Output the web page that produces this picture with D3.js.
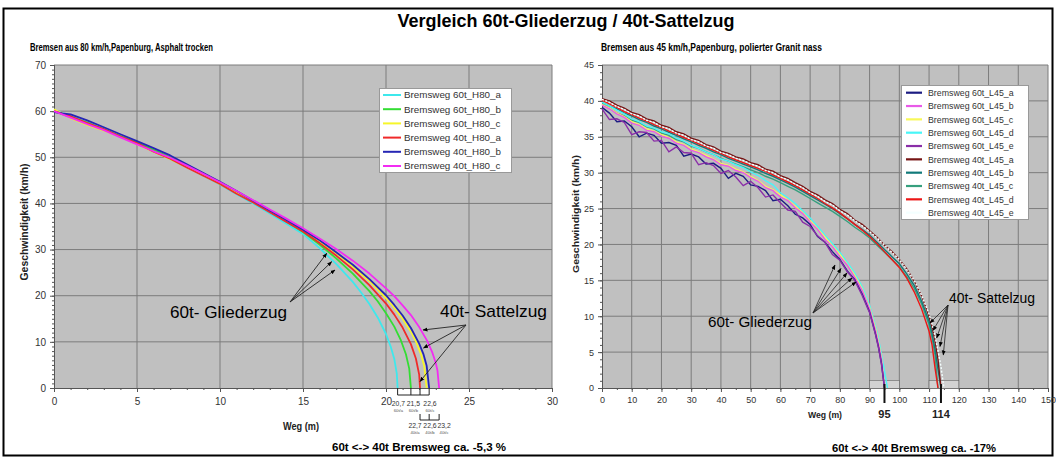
<!DOCTYPE html>
<html><head><meta charset="utf-8">
<script src="https://cdn.jsdelivr.net/npm/d3@7"></script>
<style>body{margin:0;background:#fff}svg{display:block}</style>
</head><body><svg id="c" width="1056" height="459"></svg>
<script>
// ---------------- DATA ----------------
const titleText = "Vergleich 60t-Gliederzug / 40t-Sattelzug";
const leftSubtitle = "Bremsen aus 80 km/h,Papenburg, Asphalt trocken";
const rightSubtitle = "Bremsen aus  45 km/h,Papenburg, polierter Granit nass";
const yTitle = "Geschwindigkeit (km/h)";
const xTitle = "Weg (m)";

// Left chart (80 km/h, asphalt dry): [Weg m, km/h]
const leftNames = ["Bremsweg 60t_H80_a","Bremsweg 60t_H80_b","Bremsweg 60t_H80_c","Bremsweg 40t_H80_a","Bremsweg 40t_H80_b","Bremsweg 40t_H80_c"];
const leftColors = ["#3ee8ec","#33dd33","#f6f62a","#f02a2a","#2626b4","#f22cf2"];
const h80_60a = [[0,60.2],[0.5,59.6],[1,59.0],[2,57.6],[3,56.1],[4,54.5],[5,53.0],[6,51.3],[7,49.6],[8,47.9],[9,46.0],[10,44.1],[11,42.0],[12,40.0],[13,37.8],[14,35.6],[15,33.4],[16,30.3],[17,26.9],[18,23.0],[18.5,20.7],[19,18.2],[19.5,15.3],[20,11.7],[20.3,8.8],[20.5,6.3],[20.65,3.1],[20.7,0]];
const h80_60b = [[0,60.0],[1,58.7],[2,57.5],[3,56.0],[4,54.6],[5,53.2],[6,51.6],[7,50.0],[8,48.3],[9,46.5],[10,44.5],[11,42.5],[12,40.4],[13,38.3],[14,36.1],[15,33.8],[16,31.1],[17,28.1],[18,24.8],[19,21.0],[19.5,18.8],[20,16.2],[20.5,13.3],[20.9,10.3],[21.2,7.3],[21.4,4.2],[21.5,0]];
const h80_60c = [[0,60.4],[1,58.5],[2,57.0],[3,55.8],[4,54.4],[5,52.8],[6,51.2],[7,49.6],[8,47.9],[9,46.1],[10,44.2],[11,42.3],[12,40.3],[13,38.3],[14,36.2],[15,34.1],[16,31.7],[17,29.2],[18,26.3],[19,23.2],[20,19.5],[20.5,17.4],[21,15.0],[21.5,12.2],[21.8,10.1],[22.1,7.4],[22.3,4.8],[22.45,0]];
const h80_40a = [[0,60.0],[1,58.9],[2,57.4],[3,56.1],[4,54.5],[5,53.1],[6,51.2],[7,49.7],[8,47.8],[9,46.0],[10,44.2],[11,42.1],[12,40.2],[13,38.1],[14,36.0],[15,33.9],[16,31.4],[17,28.7],[18,25.7],[19,22.3],[20,18.3],[20.5,15.9],[21,13.1],[21.5,9.5],[21.8,6.4],[22,2.9],[22.05,0]];
const h80_40b = [[0,59.8],[0.5,59.5],[1,59.3],[2,58.0],[3,56.5],[4,55.0],[5,53.5],[6,52.0],[7,50.4],[8,48.5],[9,46.6],[10,44.7],[11,42.7],[12,40.6],[13,38.5],[14,36.4],[15,34.3],[16,32.0],[17,29.4],[18,26.7],[19,23.6],[20,20.1],[20.5,18.0],[21,15.7],[21.5,13.0],[22,9.6],[22.25,7.4],[22.45,4.8],[22.6,0]];
const h80_40c = [[0,60.0],[1,58.6],[2,57.2],[3,55.9],[4,54.3],[5,52.8],[6,51.3],[7,49.9],[8,48.2],[9,46.4],[10,44.6],[11,42.7],[12,40.7],[13,38.7],[14,36.7],[15,34.6],[16,32.4],[17,30.1],[18,27.6],[19,24.8],[20,21.6],[20.5,19.9],[21,17.9],[21.5,15.8],[22,13.2],[22.5,10.1],[22.8,7.6],[23,5.4],[23.1,3.8],[23.2,0]];
const leftData = [h80_60a,h80_60b,h80_60c,h80_40a,h80_40b,h80_40c];
const leftXTicks = [0,5,10,15,20,25,30];
const leftYTicks = [0,10,20,30,40,50,60,70];

// bracket annotation of stopping distances (left)
const stop60Pos = [20.7,21.5,22.05,22.6];
const stop60LabelPos = [20.75,21.65,22.65];
const stop60Labels = ["20,7","21,5","22,6"];
const stop60Sub = ["60t/a","60t/b","60t/c"];
const stop40Pos = [22.05,22.6,23.2];
const stop40LabelPos = [21.75,22.65,23.5];
const stop40Labels = ["22,7","22,6","23,2"];
const stop40Sub = ["40t/a","40t/b","40t/c"];
const leftNote = "60t <-> 40t Bremsweg ca. -5,3 %";

// Right chart (45 km/h, polished granite wet)
const rightNames = ["Bremsweg 60t_L45_a","Bremsweg 60t_L45_b","Bremsweg 60t_L45_c","Bremsweg 60t_L45_d","Bremsweg 60t_L45_e","Bremsweg 40t_L45_a","Bremsweg 40t_L45_b","Bremsweg 40t_L45_c","Bremsweg 40t_L45_d","Bremsweg 40t_L45_e"];
const rightColors = ["#1c1c82","#e85ae8","#f8f85a","#48f6f8","#8a2ea8","#761414","#117a7a","#36a07e","#ec1616","#f4ffff"];
const weg60 = [0,2.5,5,7.5,10,12.5,15,17.5,20,22.5,25,27.5,30,32.5,35,37.5,40,42.5,45,47.5,50,52.5,55,57.5,60,62.5,65,67.5,70,72.5,75,77.5,80,82.5,85,87.5,90,92,93,94,95,96];
const l45_60a = [39.1,38.3,37.1,37.2,36.4,35.0,35.5,35.2,34.1,34.2,33.8,32.3,32.6,32.2,31.2,31.3,30.6,29.2,29.9,29.5,28.3,28.1,27.5,26.1,26.3,25.4,24.2,23.7,22.8,21.1,20.3,19.0,17.9,16.3,15.1,13.1,10.6,7.5,5.7,3.4,0,null];
const l45_60b = [39.4,38.9,38.2,37.7,36.9,36.6,35.9,35.7,35.1,34.8,34.1,33.8,33.1,32.8,32.2,31.8,31.1,30.9,30.3,30.0,29.3,28.8,27.9,27.5,26.6,26.1,25.1,24.3,23.1,22.1,20.7,19.7,18.3,17.1,15.4,13.6,11.0,8.0,6.1,4.0,0,null];
const l45_60c = [39.5,39.0,38.3,37.8,37.1,36.7,36.1,35.8,35.3,34.9,34.3,33.9,33.3,32.9,32.4,31.9,31.3,31.0,30.5,30.1,29.5,28.9,28.1,27.6,26.9,26.2,25.3,24.4,23.3,22.2,21.0,19.8,18.6,17.2,15.7,13.8,11.2,8.3,6.4,4.2,0,null];
const l45_60d = [39.8,39.3,38.7,38.2,37.5,37.1,36.5,36.2,35.7,35.4,34.8,34.4,33.8,33.4,32.9,32.5,31.9,31.6,31.1,30.7,30.1,29.6,28.9,28.3,27.2,26.5,25.7,24.7,23.7,22.5,21.3,20.1,18.9,17.5,16.0,14.1,11.5,8.6,6.8,4.7,2.4,0];
const l45_60e = [38.9,37.4,37.5,37.0,35.3,35.7,35.6,34.4,34.5,32.9,33.6,32.8,32.7,31.1,31.4,31.0,29.9,30.3,29.4,28.2,28.8,27.9,26.6,26.9,25.8,24.8,24.6,23.1,22.5,21.2,20.3,18.6,17.8,16.2,15.0,12.9,10.5,7.4,5.6,3.3,0,null];
const weg40 = [0,2.5,5,7.5,10,12.5,15,17.5,20,22.5,25,27.5,30,32.5,35,37.5,40,42.5,45,47.5,50,52.5,55,57.5,60,62.5,65,67.5,70,72.5,75,77.5,80,82.5,85,87.5,90,92.5,95,97.5,100,102.5,105,107.5,110,111,112,113,114,115];
const l45_40a = [40.3,40.0,39.4,39.0,38.4,38.1,37.5,37.2,36.6,36.3,35.7,35.4,34.8,34.5,33.9,33.6,33.0,32.7,32.2,31.9,31.4,31.1,30.5,30.2,29.6,29.2,28.6,28.1,27.4,26.9,26.2,25.7,24.9,24.3,23.4,22.8,21.9,21.0,19.9,19.0,17.9,16.6,14.9,12.8,10.0,8.5,6.6,4.0,0,null];
const l45_40b = [39.8,39.3,38.9,38.3,37.9,37.4,37.0,36.5,36.1,35.6,35.2,34.7,34.3,33.8,33.4,32.9,32.5,32.0,31.6,31.2,30.8,30.4,29.9,29.5,29.0,28.5,28.0,27.4,26.8,26.2,25.6,25.0,24.3,23.6,22.8,22.1,21.3,20.3,19.3,18.3,17.3,15.9,14.3,12.1,9.3,7.6,5.4,2.6,0,null];
const l45_40c = [39.6,39.0,38.3,37.9,37.3,37.0,36.4,36.1,35.5,35.2,34.6,34.3,33.7,33.4,32.9,32.5,32.0,31.6,31.2,30.8,30.4,30.0,29.5,29.1,28.6,28.1,27.6,27.0,26.4,25.8,25.2,24.6,23.9,23.2,22.4,21.7,20.9,19.9,18.9,17.9,16.9,15.5,13.9,11.7,8.8,7.0,4.6,0,null,null];
const l45_40d = [40.1,39.6,39.1,38.5,38.1,37.6,37.2,36.7,36.3,35.8,35.4,34.9,34.5,34.0,33.6,33.1,32.7,32.2,31.8,31.4,31.0,30.6,30.2,29.7,29.2,28.7,28.2,27.6,27.0,26.4,25.7,25.1,24.4,23.6,22.8,22.0,21.1,20.1,19.0,17.9,16.8,15.3,13.4,11.0,7.9,6.0,2.8,0,null,null];
const l45_40e = [40.2,39.8,39.2,38.8,38.2,37.9,37.3,37.0,36.4,36.1,35.5,35.2,34.6,34.3,33.7,33.4,32.8,32.5,32.0,31.7,31.2,30.9,30.3,30.0,29.4,29.0,28.4,27.9,27.2,26.7,26.0,25.5,24.7,24.1,23.3,22.6,21.8,20.9,19.9,18.9,17.9,16.5,15.0,12.9,10.3,8.9,7.2,5.2,3.0,0];
const rightValues = [l45_60a,l45_60b,l45_60c,l45_60d,l45_60e,l45_40a,l45_40b,l45_40c,l45_40d,l45_40e];
const rightGrids = [weg60,weg60,weg60,weg60,weg60,weg40,weg40,weg40,weg40,weg40];
const rightXTicks = [0,10,20,30,40,50,60,70,80,90,100,110,120,130,140,150];
const rightYTicks = [0,5,10,15,20,25,30,35,40,45];
const stopRight = [95,114];
const stopRightLabels = ["95","114"];
const rightNote = "60t <-> 40t Bremsweg ca. -17%";
const label60 = "60t- Gliederzug";
const label40 = "40t- Sattelzug";

// ---------------- DRAWING ----------------
const svg = d3.select("#c");
const SANS = "'Liberation Sans', Arial, sans-serif";
const NARROW = "'Liberation Sans Narrow','Arial Narrow','Liberation Sans',sans-serif";

svg.append("defs").append("marker").attr("id","arr").attr("viewBox","0 0 10 10")
  .attr("refX",9).attr("refY",5).attr("markerWidth",5).attr("markerHeight",5)
  .attr("orient","auto").attr("markerUnits","userSpaceOnUse")
  .append("path").attr("d","M0,1 L10,5 L0,9 z").attr("fill","#000");

svg.append("rect").attr("x",3.5).attr("y",8.5).attr("width",1049).attr("height",447)
  .attr("fill","none").attr("stroke","#000").attr("stroke-width",2);

function txt(x,y,s,size,opts={}){
  const t = svg.append("text").attr("x",x).attr("y",y).text(s)
    .attr("font-family",opts.family||SANS).attr("font-size",size)
    .attr("font-weight",opts.bold?"bold":"normal").attr("fill",opts.fill||"#000")
    .attr("text-anchor",opts.anchor||"start");
  if(opts.len) t.attr("textLength",opts.len).attr("lengthAdjust","spacingAndGlyphs");
  if(opts.rot) t.attr("transform",`rotate(${opts.rot},${x},${y})`);
  return t;
}

txt(566,27,titleText,19,{bold:true,family:NARROW,anchor:"middle",len:337});
txt(30,51,leftSubtitle,11,{bold:true,family:NARROW,len:183});
txt(601,51,rightSubtitle,11,{bold:true,family:NARROW,len:221});

function panel(cfg){
  const x = d3.scaleLinear().domain(cfg.xd).range([cfg.x0,cfg.x1]);
  const y = d3.scaleLinear().domain(cfg.yd).range([cfg.y0,cfg.y1]);
  const g = svg.append("g");
  g.append("rect").attr("x",cfg.x0).attr("y",cfg.y1).attr("width",cfg.x1-cfg.x0).attr("height",cfg.y0-cfg.y1).attr("fill","#c0c0c0");
  g.selectAll(null).data(cfg.xt.slice(1)).join("line")
    .attr("x1",d=>x(d)).attr("x2",d=>x(d)).attr("y1",cfg.y0).attr("y2",cfg.y1).attr("stroke","#7c7c7c").attr("stroke-width",1);
  g.selectAll(null).data(cfg.yt.slice(1)).join("line")
    .attr("y1",d=>y(d)).attr("y2",d=>y(d)).attr("x1",cfg.x0).attr("x2",cfg.x1).attr("stroke","#7c7c7c").attr("stroke-width",1);
  const ax = g.append("g").attr("transform",`translate(0,${cfg.y0})`)
    .call(d3.axisBottom(x).tickValues(d3.range(cfg.xd[0],cfg.xd[1]+1e-9,cfg.xminor)).tickSize(2).tickFormat(""));
  const ay = g.append("g").attr("transform",`translate(${cfg.x0},0)`)
    .call(d3.axisLeft(y).tickValues(d3.range(cfg.yd[0],cfg.yd[1]+1e-9,cfg.yminor)).tickSize(2).tickFormat(""));
  const bx = g.append("g").attr("transform",`translate(0,${cfg.y0})`)
    .call(d3.axisBottom(x).tickValues(cfg.xt).tickSize(4).tickPadding(cfg.xpad).tickFormat(d3.format("d")));
  const by = g.append("g").attr("transform",`translate(${cfg.x0},0)`)
    .call(d3.axisLeft(y).tickValues(cfg.yt).tickSize(4).tickPadding(4).tickFormat(d3.format("d")));
  [ax,ay,bx,by].forEach(a=>{
    a.selectAll("path,line").attr("stroke","#555");
    a.selectAll("text").attr("fill","#333").attr("font-family",SANS).attr("font-size",cfg.fs);
  });
  return {x,y,g};
}

// ----- Left panel -----
const L = panel({xd:[0,30],yd:[0,70],x0:54,x1:552,y0:388,y1:65,xt:leftXTicks,yt:leftYTicks,xminor:1,yminor:1,fs:10,xpad:6});
const lineL = d3.line().x(d=>L.x(d[0])).y(d=>L.y(d[1]));
leftData.forEach((s,i)=>{
  L.g.append("path").attr("d",lineL(s)).attr("fill","none").attr("stroke",leftColors[i]).attr("stroke-width",1.8).attr("stroke-linejoin","round");
});
(function(){
  const g = svg.append("g");
  g.append("rect").attr("x",379.5).attr("y",88.5).attr("width",132).attr("height",84).attr("fill","#fff").attr("stroke","#999");
  leftNames.forEach((n,i)=>{
    const yy = 95+i*14.2;
    g.append("line").attr("x1",383).attr("x2",401).attr("y1",yy).attr("y2",yy).attr("stroke",leftColors[i]).attr("stroke-width",2);
    g.append("text").attr("x",404).attr("y",yy+3.4).text(n).attr("font-family",SANS).attr("font-size",9.8).attr("fill","#333");
  });
})();
txt(170,318,label60,17,{len:117});
[[326.7,253.3],[331.7,261.7],[335,270]].forEach(p=>{
  svg.append("line").attr("x1",290).attr("y1",302).attr("x2",p[0]).attr("y2",p[1]).attr("stroke","#222").attr("stroke-width",0.9).attr("marker-end","url(#arr)");
});
txt(440,317,label40,17,{len:107});
[[423,330],[423.5,348],[420,381.5]].forEach(p=>{
  svg.append("line").attr("x1",466).attr("y1",325).attr("x2",p[0]).attr("y2",p[1]).attr("stroke","#222").attr("stroke-width",0.9).attr("marker-end","url(#arr)");
});
(function(){
  const g = svg.append("g").attr("stroke","#222").attr("stroke-width",1).attr("fill","none");
  const xs = stop60Pos.map(L.x);
  g.append("line").attr("x1",xs[0]).attr("x2",xs[xs.length-1]).attr("y1",395).attr("y2",395);
  xs.forEach(v=>g.append("line").attr("x1",v).attr("x2",v).attr("y1",388).attr("y2",395));
  const xs2 = stop40Pos.map(L.x);
  g.append("line").attr("x1",xs2[0]).attr("x2",xs2[xs2.length-1]).attr("y1",420).attr("y2",420);
  xs2.forEach(v=>g.append("line").attr("x1",v).attr("x2",v).attr("y1",414).attr("y2",420));
  stop60LabelPos.forEach((p,i)=>{
    txt(L.x(p),406,stop60Labels[i],6.8,{anchor:"middle",fill:"#333"});
    txt(L.x(p),411.5,stop60Sub[i],4.2,{anchor:"middle",fill:"#555"});
  });
  stop40LabelPos.forEach((p,i)=>{
    txt(L.x(p),428,stop40Labels[i],6.8,{anchor:"middle",fill:"#333"});
    txt(L.x(p),433.5,stop40Sub[i],4.2,{anchor:"middle",fill:"#555"});
  });
})();
txt(301,429.5,xTitle,10,{bold:true,anchor:"middle",fill:"#222",len:36});
txt(28,222,yTitle,10,{bold:true,anchor:"middle",fill:"#222",rot:-90,len:117});
txt(419,451,leftNote,11.5,{bold:true,anchor:"middle",len:174});

// ----- Right panel -----
const R = panel({xd:[0,150],yd:[0,45],x0:602,x1:1048,y0:388,y1:65,xt:rightXTicks,yt:rightYTicks,xminor:5,yminor:1,fs:9,xpad:5});
[[90,100],[110,120]].forEach(b=>{
  R.g.append("rect").attr("x",R.x(b[0])).attr("y",380.5).attr("width",R.x(b[1])-R.x(b[0])).attr("height",8)
    .attr("fill","#d2d2d2").attr("stroke","#666").attr("stroke-width",0.6);
});
const lineR = d3.line().defined(d=>d[1]!=null).x(d=>R.x(d[0])).y(d=>R.y(d[1]));
const orderR = [7,6,8,5,9,3,2,1,0,4];
orderR.forEach(i=>{
  const pts = rightGrids[i].map((s,k)=>[s,rightValues[i][k]]);
  const p = R.g.append("path").attr("d",lineR(pts)).attr("fill","none").attr("stroke",rightColors[i]).attr("stroke-width",1.4);
  if(i===9) p.attr("stroke-dasharray","2,1.5");
});
(function(){
  const g = svg.append("g");
  g.append("rect").attr("x",901.5).attr("y",85.5).attr("width",127).attr("height",134).attr("fill","#fff").attr("stroke","#999");
  rightNames.forEach((n,i)=>{
    const yy = 92.7+i*13.33;
    g.append("line").attr("x1",906).attr("x2",922).attr("y1",yy).attr("y2",yy).attr("stroke",rightColors[i]).attr("stroke-width",2.2);
    g.append("text").attr("x",928).attr("y",yy+3.2).text(n).attr("font-family",SANS).attr("font-size",8.8).attr("fill","#333");
  });
})();
txt(708,327,label60,15.2,{len:104});
[[835,265],[841,268.5],[847,273],[852,278],[856,282]].forEach(p=>{
  svg.append("line").attr("x1",813).attr("y1",313).attr("x2",p[0]).attr("y2",p[1]).attr("stroke","#222").attr("stroke-width",0.8).attr("marker-end","url(#arr)");
});
txt(949,303,label40,14,{len:86});
[[930,323],[933,330.5],[936.7,338],[940,346.5],[943.3,355]].forEach(p=>{
  svg.append("line").attr("x1",948).attr("y1",305).attr("x2",p[0]).attr("y2",p[1]).attr("stroke","#222").attr("stroke-width",0.8).attr("marker-end","url(#arr)");
});
stopRight.forEach((s,i)=>{
  svg.append("line").attr("x1",R.x(s)).attr("x2",R.x(s)).attr("y1",384).attr("y2",403).attr("stroke","#111").attr("stroke-width",2);
  txt(R.x(s),418,stopRightLabels[i],11,{bold:true,anchor:"middle",fill:"#222"});
});
txt(825,418,xTitle,9,{bold:true,anchor:"middle",fill:"#222",len:34});
txt(579,214,yTitle,9.5,{bold:true,anchor:"middle",fill:"#222",rot:-90,len:118});
txt(914,452,rightNote,11.3,{bold:true,anchor:"middle",len:164});
</script></body></html>
